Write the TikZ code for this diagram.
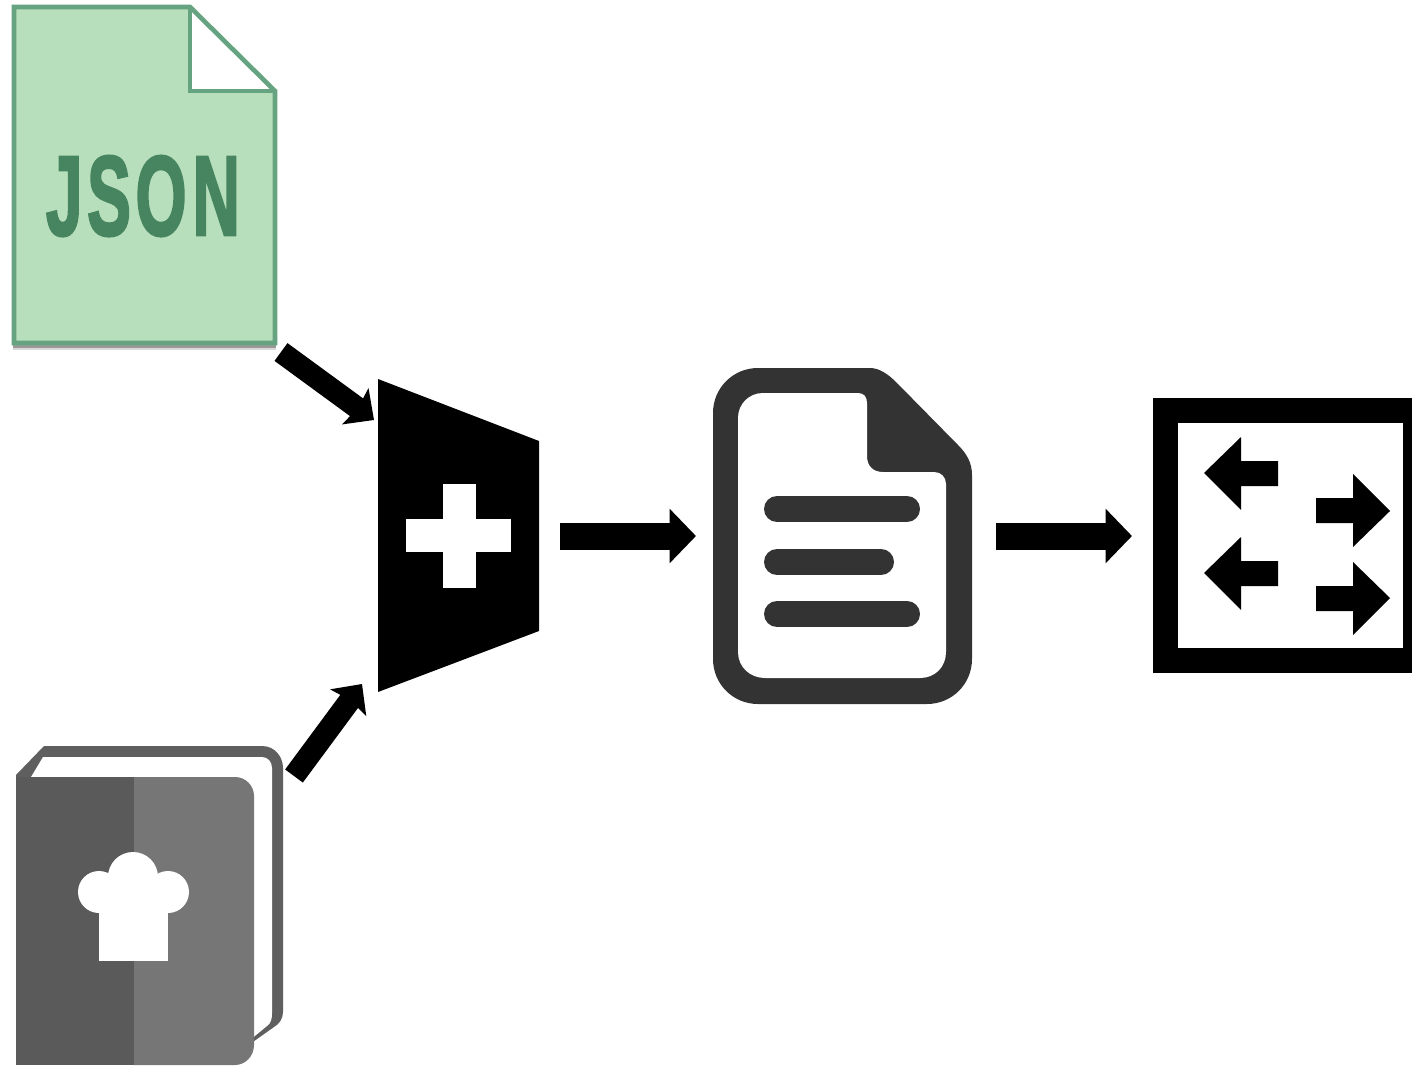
\documentclass[tikz,border=0pt]{standalone}
\usepackage{fontspec}
\usepackage{graphicx}
\setmainfont{Liberation Sans}[BoldFeatures={FakeBold=2.6}]
\usetikzlibrary{arrows.meta}
\definecolor{jsonfill}{HTML}{B8DFBC}
\definecolor{jsonline}{HTML}{66A380}
\definecolor{jsontext}{HTML}{46855F}
\definecolor{bookback}{HTML}{5F5F5F}
\definecolor{bookleft}{HTML}{595A59}
\definecolor{bookright}{HTML}{767676}
\definecolor{docdark}{HTML}{333333}
\tikzset{
  flowarrow/.style={line width=1.35cm,-{Triangle[length=1.32cm,width=2.65cm]}},
  slantarrow/.style={line width=1.1cm,-{Stealth[length=1.15cm,width=2.2cm,inset=0.15cm]}},
  docbar/.style={line width=1.3cm,line cap=round,draw=docdark},
  jsonedge/.style={line width=0.23cm,draw=jsonline,line join=miter}
}
\begin{document}
\begin{tikzpicture}[x=0.05cm,y=-0.05cm]
\useasboundingbox (0,0) rectangle (1412,1066);
\fill[white] (0,0) rectangle (1412,1066);

% JSON file
\fill[black!15] (13,345) rectangle (276,350);
\fill[black!40] (13,345) rectangle (276,347.5);
\fill[jsonfill] (14,7) -- (190,7) -- (275,91) -- (275,343) -- (14,343) -- cycle;
\fill[white] (190,7) -- (275,91) -- (190,91) -- cycle;
\draw[jsonedge] (14,7) -- (190,7) -- (275,91) -- (275,343) -- (14,343) -- cycle;
\draw[jsonedge] (190,7) -- (190,91) -- (275,91);
\node[inner sep=0pt,text=jsontext,anchor=base] (jsonlabel) at (143,235)
  {\resizebox{9.7cm}{3.95cm}{\bfseries J\kern.07em S\kern.07em O\kern.09em N}};

% Cookbook
\fill[bookback] (16,775) -- (44,746) -- (262,746) .. controls (275,746) and (283,757) .. (283,768)
  -- (283,1012) .. controls (283,1019) and (279,1024) .. (274,1027) -- (250,1044) -- (16,1044) -- cycle;
\fill[white] (31,777) -- (43,757) -- (262,757) .. controls (268,757) and (272,762) .. (272,768)
  -- (272,1013) .. controls (272,1019) and (271,1023) .. (267,1026) -- (250,1040) -- (31,1040) -- cycle;
\fill[bookleft] (16,777) rectangle (134,1065);
\fill[bookright] (134,777) -- (235,777) .. controls (245.5,777) and (254,785.5) .. (254,796)
  -- (254,1045) .. controls (254,1056) and (245.5,1065) .. (235,1065) -- (134,1065) -- cycle;
\fill[white] (99,892) circle (21);
\fill[white] (168,892) circle (21);
\fill[white] (133,877) circle (25);
\fill[white] (99,885) rectangle (168,961);

% Merge block
\fill[black] (378,379) -- (539,441) -- (539,631) -- (378,692) -- cycle;
\fill[white] (443,484) rectangle (476,588);
\fill[white] (406,519) rectangle (511,552);

% Document
\fill[docdark] (758,368) -- (870,368) .. controls (880,368) and (889,375) .. (897,383)
  -- (958,445) .. controls (966,453) and (972,462) .. (972,475)
  -- (972,659) .. controls (972,684) and (952,704) .. (927,704)
  -- (758,704) .. controls (733,704) and (713,684) .. (713,659)
  -- (713,413) .. controls (713,388) and (733,368) .. (758,368) -- cycle;
\fill[white] (763,393) -- (858,393) .. controls (864,393) and (867,397) .. (867,403)
  -- (867,456) .. controls (867,466) and (873,472) .. (883,472)
  -- (934,472) .. controls (941,472) and (946,477) .. (946,484)
  -- (946,652) .. controls (946,667) and (935,678) .. (920,678)
  -- (765,678) .. controls (750,678) and (738,667) .. (738,652)
  -- (738,418) .. controls (738,404) and (749,393) .. (763,393) -- cycle;
\draw[docbar] (777,509) -- (907,509);
\draw[docbar] (777,562) -- (881,562);
\draw[docbar] (777,614) -- (907,614);

% Switch
\fill[black] (1153,398) rectangle (1412,673);
\fill[white] (1178,423) rectangle (1403,648);
\fill[black] (1204,473) -- (1241,437) -- (1241,461) -- (1278,461) -- (1278,486) -- (1241,486) -- (1241,510) -- cycle;
\fill[black] (1204,573) -- (1241,537) -- (1241,561) -- (1278,561) -- (1278,586) -- (1241,586) -- (1241,610) -- cycle;
\fill[black] (1390,511) -- (1353,474) -- (1353,498) -- (1316,498) -- (1316,523) -- (1353,523) -- (1353,547) -- cycle;
\fill[black] (1390,598) -- (1353,562) -- (1353,586) -- (1316,586) -- (1316,611) -- (1353,611) -- (1353,635) -- cycle;

% Connectors
\coordinate (jsonout) at (281,352);
\coordinate (mergetop) at (374,420);
\coordinate (bookout) at (294,776);
\coordinate (mergebottom) at (362,684);
\coordinate (mergeout) at (560,536);
\coordinate (docin) at (696,536);
\coordinate (docout) at (996,536);
\coordinate (switchin) at (1132,536);
\draw[slantarrow] (jsonout) -- (mergetop);
\draw[slantarrow] (bookout) -- (mergebottom);
\draw[flowarrow] (mergeout) -- (docin);
\draw[flowarrow] (docout) -- (switchin);
\end{tikzpicture}
\end{document}
